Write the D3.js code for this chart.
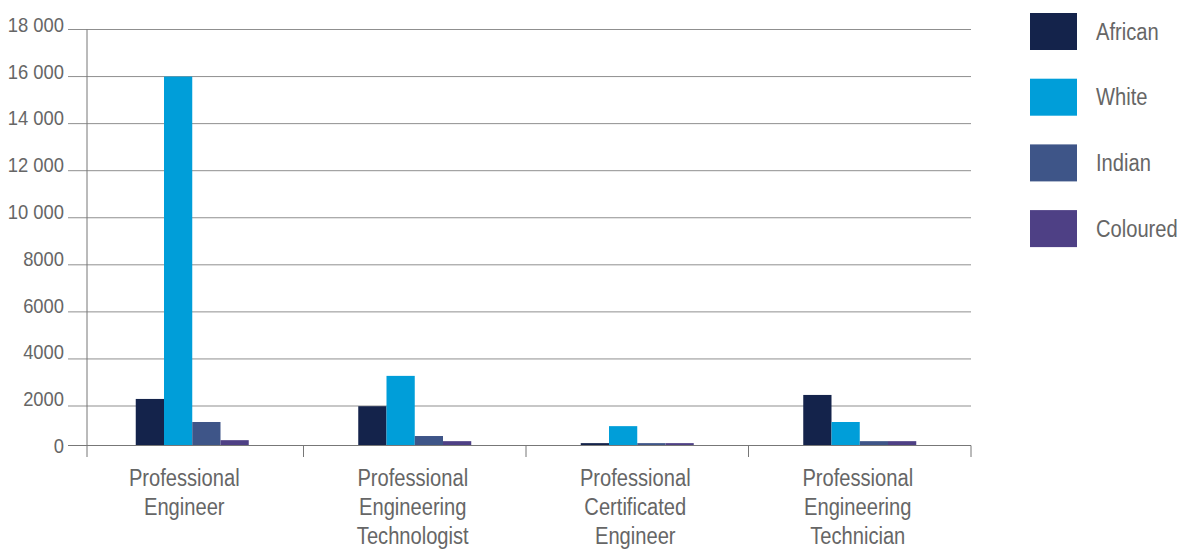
<!DOCTYPE html>
<html>
<head>
<meta charset="utf-8">
<script src="https://cdn.jsdelivr.net/npm/d3@7"></script>
<style>
  html, body { margin: 0; padding: 0; background: #fff; }
  svg { display: block; font-family: "Liberation Sans", Arial, sans-serif; }
</style>
</head>
<body>
<svg id="chart" width="1186" height="549"></svg>
<script>
// Registered engineering professionals by category and population group
const categories = [
  ["Professional", "Engineer"],
  ["Professional", "Engineering", "Technologist"],
  ["Professional", "Certificated", "Engineer"],
  ["Professional", "Engineering", "Technician"]
];
const groups = ["African", "White", "Indian", "Coloured"];
const african  = [2300, 1990, 120, 2470];
const white    = [16000, 3280, 980, 1190];
const indian   = [1190, 480, 120, 220];
const coloured = [270, 220, 120, 220];
const tickValues = [0, 2000, 4000, 6000, 8000, 10000, 12000, 14000, 16000, 18000];
const tickLabels = ["0", "2000", "4000", "6000", "8000", "10 000", "12 000", "14 000", "16 000", "18 000"];
const colors = ["#14234b", "#009ed9", "#3e5588", "#4e4085"];

const series = [african, white, indian, coloured];
const svg = d3.select("#chart");
const textColor = "#666";
const squeeze = 0.875; // narrow text face

// Value axis: the baseline sits a little above the regular grid step
const y = d3.scaleLinear().domain([0, 2000, 18000]).range([445.5, 406, 29.5]);
// Tick labels are spaced evenly down the axis
const yLabel = d3.scaleLinear().domain([0, 18000]).range([445.5, 24.5]);

const x0 = d3.scaleBand().domain(d3.range(categories.length)).range([81, 971]).padding(0);
const x1 = d3.scaleBand().domain(groups).range([0, 113]);
const groupOffset = (x0.bandwidth() - 113) / 2;

// Gridlines (extend left past the axis as tick marks)
svg.append("g").selectAll("line")
  .data(tickValues.filter(v => v > 0))
  .join("line")
  .attr("x1", 68).attr("x2", 971)
  .attr("y1", d => y(d)).attr("y2", d => y(d))
  .attr("stroke", "#8f8f8f").attr("stroke-width", 1);

// Y tick labels
svg.append("g").selectAll("text")
  .data(tickValues)
  .join("text")
  .attr("transform", d => `translate(64,${yLabel(d)}) scale(${squeeze},1)`)
  .attr("dy", "0.35em")
  .attr("text-anchor", "end")
  .attr("font-size", 21)
  .attr("fill", textColor)
  .text((d, i) => tickLabels[i]);

// Bars
const bars = svg.append("g");
categories.forEach((cat, ci) => {
  groups.forEach((g, gi) => {
    const v = series[gi][ci];
    bars.append("rect")
      .attr("x", x0(ci) + groupOffset + x1(g))
      .attr("y", y(v))
      .attr("width", x1.bandwidth())
      .attr("height", y(0) - y(v))
      .attr("fill", colors[gi]);
  });
});

// Axes lines
const axisColor = "#777";
svg.append("line")
  .attr("x1", 87).attr("x2", 87).attr("y1", y(18000)).attr("y2", 457)
  .attr("stroke", axisColor).attr("stroke-width", 1);
svg.append("line")
  .attr("x1", 68).attr("x2", 971).attr("y1", y(0)).attr("y2", y(0))
  .attr("stroke", axisColor).attr("stroke-width", 1);
// Category separators
svg.append("g").selectAll("line")
  .data(d3.range(1, categories.length + 1))
  .join("line")
  .attr("x1", d => d === categories.length ? x0.range()[1] : x0(d))
  .attr("x2", d => d === categories.length ? x0.range()[1] : x0(d))
  .attr("y1", y(0)).attr("y2", 457)
  .attr("stroke", axisColor).attr("stroke-width", 1);

// Category labels
const catG = svg.append("g");
categories.forEach((lines, ci) => {
  const cx = x0(ci) + x0.bandwidth() / 2 + (ci === 0 ? -8 : -2);
  const t = catG.append("text")
    .attr("transform", `translate(${cx},486) scale(${squeeze},1)`)
    .attr("text-anchor", "middle")
    .attr("font-size", 23)
    .attr("fill", textColor);
  lines.forEach((ln, li) => {
    t.append("tspan")
      .attr("x", 0)
      .attr("y", li * 29)
      .text(ln);
  });
});

// Legend
const legend = svg.append("g");
groups.forEach((g, i) => {
  const top = 13 + i * 65.7;
  legend.append("rect")
    .attr("x", 1030).attr("y", top)
    .attr("width", 47).attr("height", 37)
    .attr("fill", colors[i]);
  legend.append("text")
    .attr("transform", `translate(1096,${top + 18.5}) scale(${squeeze},1)`)
    .attr("dy", "0.35em")
    .attr("font-size", 23)
    .attr("fill", textColor)
    .text(g);
});
</script>
</body>
</html>
